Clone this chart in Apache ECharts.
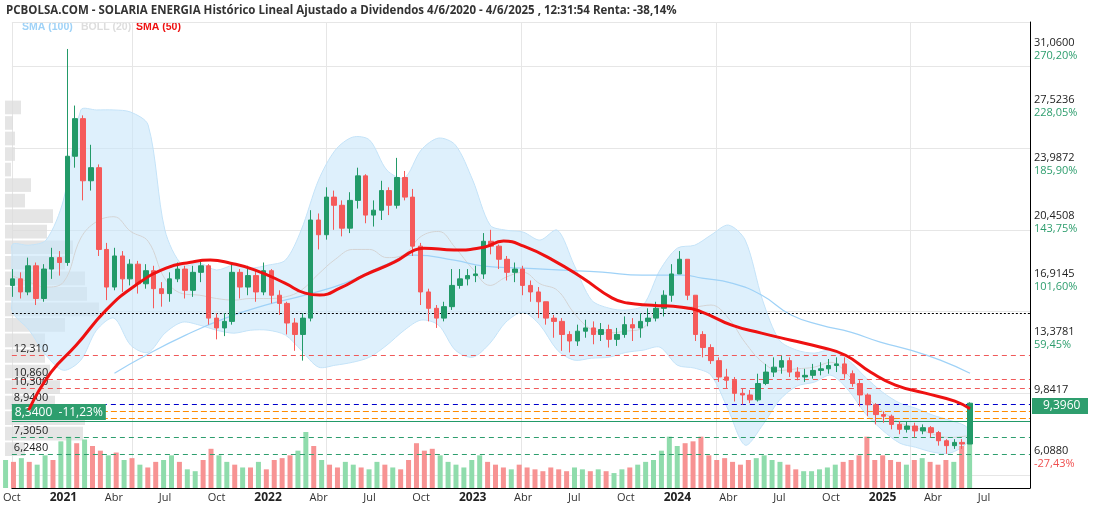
<!DOCTYPE html>
<html lang="es">
<head>
<meta charset="UTF-8">
<title>SOLARIA ENERGIA</title>
<script src="https://cdn.jsdelivr.net/npm/echarts@6/dist/echarts.min.js"></script>
<style>html,body{margin:0;padding:0;background:#fff}</style>
</head>
<body>
<div id="main" style="width:1096px;height:512px"></div>
<script>
// biweekly candles starting 2020-10-02
var startDate = Date.UTC(2020, 9, 2);
var closes = [17.0,16.2,17.8,15.8,17.6,18.3,18.0,24.5,26.8,23.0,23.8,18.8,16.5,18.4,17.0,17.9,16.7,17.5,16.4,16.1,
  17.0,17.6,16.3,17.4,17.8,14.6,14.0,14.4,17.4,16.5,17.2,16.2,17.5,16.0,15.5,14.3,13.6,14.6,20.6,19.7,
  22.0,21.5,20.1,21.8,23.3,20.9,21.2,22.4,21.5,23.2,22.0,19.0,16.2,15.2,14.6,15.3,16.6,17.0,17.2,17.3,
  19.3,19.0,18.2,17.4,17.6,16.6,16.2,15.6,14.6,14.4,13.6,13.2,13.8,14.0,13.6,13.9,13.3,13.6,14.2,14.0,
  14.4,14.6,15.2,16.0,17.3,18.2,16.0,13.6,12.8,12.0,11.0,10.8,10.0,9.9,9.6,10.6,11.3,11.6,12.0,11.3,
  11.0,11.1,11.4,11.5,11.7,11.8,11.2,10.6,9.9,9.3,8.7,8.6,8.1,7.8,8.0,7.7,7.9,7.6,7.1,6.8,
  7.0,6.9,9.396];
var highs = [17.6,17.4,18.3,18.0,17.9,18.9,18.7,31.06,27.6,27.0,25.2,24.0,19.2,18.9,18.7,18.2,18.1,17.9,17.8,16.8,
  17.4,18.0,17.8,17.8,18.2,17.9,14.9,14.9,17.9,17.6,17.8,17.5,18.0,17.6,16.3,15.6,14.6,14.9,21.2,21.0,
  22.6,22.4,21.8,22.3,23.8,23.4,21.8,23.0,22.6,24.4,23.6,22.5,19.2,16.4,15.4,15.6,17.6,17.6,17.6,17.8,
  19.8,20.0,19.1,18.4,18.0,17.8,16.9,16.5,15.6,14.8,14.6,13.8,14.2,14.5,14.4,14.3,14.2,14.0,14.7,14.6,
  14.9,15.2,15.6,16.3,17.9,18.7,18.2,16.0,13.8,13.0,12.2,11.5,11.0,10.3,10.2,11.2,11.8,12.2,12.3,12.2,
  11.6,11.5,11.8,11.9,12.1,12.2,12.2,11.4,10.8,10.0,9.4,8.9,8.7,8.3,8.3,8.2,8.1,8.0,7.7,7.2,
  7.2,7.2,9.45];
var lows = [15.9,15.8,16.0,15.4,15.6,17.0,17.2,17.8,23.8,21.8,22.4,18.4,15.7,16.3,16.2,16.6,16.1,16.4,15.2,15.3,
  15.6,16.8,15.8,15.9,16.8,14.2,13.3,13.5,14.2,15.8,16.0,15.6,16.0,15.5,14.8,13.6,12.6,12.0,14.4,18.8,
  19.4,20.0,19.6,19.8,21.3,20.4,20.2,20.6,20.9,21.3,21.8,18.4,15.4,14.4,14.0,14.4,15.1,16.4,16.6,16.8,
  17.0,18.5,17.6,16.9,16.8,16.0,15.6,14.6,14.2,13.4,12.6,12.5,12.9,13.4,13.0,13.2,12.8,12.9,13.4,13.2,
  13.4,14.1,14.4,14.7,15.6,17.4,15.7,13.2,12.2,11.8,10.7,10.3,9.5,9.3,9.4,9.5,10.5,11.0,11.2,11.0,
  10.8,10.7,10.9,11.1,11.2,11.3,10.9,10.4,9.2,8.6,8.1,8.2,7.8,7.5,7.6,7.3,7.5,7.3,6.8,6.3,
  6.6,6.6,6.9];
var firstOpen = 16.6;
var volumes = [30,28,32,28,25,35,30,50,55,48,52,45,40,35,38,30,32,25,22,28,
  30,35,28,20,18,30,42,35,28,25,22,22,28,20,30,32,35,40,60,45,
  30,25,22,28,25,22,20,28,25,22,20,30,48,40,42,35,28,25,22,30,
  35,28,25,22,20,25,22,20,18,22,20,18,22,20,18,20,18,16,20,22,
  25,28,30,40,55,45,48,50,55,35,30,32,28,25,30,32,35,30,28,25,
  20,18,18,20,22,25,28,30,35,55,30,35,30,28,25,30,32,28,25,30,
  28,45,65];

// moving averages
var sma50 = [['2020-10-31',8.97],['2020-12-10',11.29],['2021-01-24',12.95],['2021-03-18',15.09],['2021-05-10',16.62],
  ['2021-07-03',17.66],['2021-08-16',18.02],['2021-09-20',18.15],['2021-10-26',17.96],['2021-12-09',17.54],
  ['2022-01-31',16.74],['2022-03-08',16.13],['2022-04-03',16.01],['2022-05-09',16.43],['2022-06-22',17.23],
  ['2022-08-14',18.02],['2022-09-19',18.76],['2022-10-06',18.88],['2022-11-29',18.76],['2023-01-21',18.94],
  ['2023-02-25',19.31],['2023-04-02',19.0],['2023-05-24',18.15],['2023-07-16',17.05],['2023-09-07',15.82],
  ['2023-10-04',15.52],['2023-11-17',15.39],['2024-01-09',15.27],['2024-02-14',14.97],['2024-04-07',14.17],
  ['2024-05-30',13.68],['2024-07-22',13.25],['2024-09-13',12.82],['2024-10-27',12.33],['2024-12-11',11.29],
  ['2025-01-24',10.50],['2025-03-18',10.01],['2025-05-10',9.52],['2025-06-06',9.05]];
var sma100 = [['2021-04-02',11.23],['2021-05-28',12.33],['2021-08-07',13.56],['2021-10-17',14.60],['2021-12-27',15.39],
  ['2022-03-08',16.01],['2022-05-18',16.74],['2022-07-28',17.84],['2022-09-19',18.45],['2022-11-29',18.15],
  ['2023-01-21',17.78],['2023-04-02',17.66],['2023-06-10',17.54],['2023-08-20',17.41],['2023-10-30',17.23],
  ['2024-01-09',17.23],['2024-02-14',17.05],['2024-04-07',16.74],['2024-05-30',16.01],['2024-07-22',14.79],
  ['2024-09-13',14.17],['2024-11-05',13.74],['2024-12-28',13.13],['2025-02-20',12.64],['2025-04-14',12.03],
  ['2025-06-06',11.23]];
// Bollinger (20), monthly from Oct 2020
var bollUpper = [19.06,19.06,19.37,21.82,27.33,27.33,27.33,27.2,26.41,19.98,17.84,17.96,17.54,17.84,17.66,17.84,18.15,19.98,23.04,24.88,
  25.67,25.49,23.65,23.17,24.88,25.61,25.19,23.04,20.29,19.98,19.86,19.37,19.98,17.84,15.7,15.21,15.09,15.39,17.54,18.88,
  19.06,19.68,20.29,19.37,15.7,13.25,12.64,12.46,12.64,12.03,11.0,10.07,9.4,9.09,8.66,8.35,7.9];
var bollLower = [15.09,13.86,12.33,11.41,12.03,13.86,14.6,12.94,12.5,13.68,14.35,14.17,13.86,13.68,13.86,13.86,13.56,12.64,11.6,11.72,
  11.9,12.21,12.95,13.86,14.48,14.17,12.64,12.21,13.07,14.35,14.96,14.17,12.64,12.03,12.15,12.21,12.5,12.64,12.82,11.72,
  11.54,11.11,8.97,6.83,8.05,9.58,10.44,10.68,11.11,10.19,8.78,7.74,6.95,6.7,6.4,6.34,7.0];
var bollMid = [17.2,16.8,16.5,16.8,19.5,20.5,20.8,19.9,19.3,17.0,16.1,16.0,15.8,15.7,15.8,15.8,15.9,16.3,17.3,18.2,
  18.8,18.8,18.3,18.5,19.6,19.9,18.9,17.6,16.6,17.1,17.4,16.7,16.3,14.9,13.9,13.7,13.8,14.0,15.2,15.3,
  15.3,15.4,14.6,13.1,11.9,11.4,11.5,11.6,11.9,11.1,9.9,8.9,8.2,7.9,7.5,7.3,7.4];

var yTicks = [6.088, 9.8417, 13.3781, 16.9145, 20.4508, 23.9872, 27.5236, 31.06];
var yTickText = ['6,0880','9,8417','13,3781','16,9145','20,4508','23,9872','27,5236','31,0600'];
var yTickPct = ['-27,43%','17,30%','59,45%','101,60%','143,75%','185,90%','228,05%','270,20%'];
var xTickDates = ['2020-10-01','2021-01-01','2021-04-01','2021-07-01','2021-10-01','2022-01-01','2022-04-01','2022-07-01',
  '2022-10-01','2023-01-01','2023-04-01','2023-07-01','2023-10-01','2024-01-01','2024-04-01','2024-07-01',
  '2024-10-01','2025-01-01','2025-04-01','2025-07-01'];
var monthNames = {0:'', 3:'Abr', 6:'Jul', 9:'Oct'};
// volume profile, 30 price bins between axis min and max
var profile = [0,0,20,78,80,50,55,45,40,40,60,94,82,80,60,68,42,48,20,26,6,10,10,8,16,0,0,0,0,0];

var yMin = 4.21, yMax = 32.71;
var DAY = 86400000;
function ts(d) { return new Date(d + 'T00:00:00Z').getTime(); }

var candleData = [], volData = [];
for (var i = 0; i < closes.length; i++) {
    var t = startDate + i * 14 * DAY;
    var open = i === 0 ? firstOpen : closes[i - 1];
    candleData.push([t, open, closes[i], lows[i], highs[i]]);
    var up = closes[i] >= open;
    volData.push({value: [t, volumes[i]], itemStyle: {color: up ? '#8fdcac' : '#f79393'}});
}
var bollTimes = [], bollM = [];
for (var m = 0; m < bollUpper.length; m++) {
    var bt = Date.UTC(2020, 9 + m, 1);
    bollTimes.push(bt);
    bollM.push([bt, bollMid[m]]);
}
var sma50Data = sma50.map(function (p) { return [ts(p[0]), p[1]]; });
var sma100Data = sma100.map(function (p) { return [ts(p[0]), p[1]]; });
var profCats = [];
for (var k = 0; k < profile.length; k++) profCats.push(String(k));
var xTickVals = xTickDates.map(ts);

function hline(v, text, color, type, width) {
    return {
        yAxis: v,
        lineStyle: {color: color, type: type, width: width || 1},
        label: {show: !!text, formatter: text || '', position: 'insideStartTop', color: '#222', fontSize: 11, distance: [2, 1]}
    };
}

// band polygon between upper and lower Bollinger lines
function renderBand(params, api) {
    var pts = [];
    for (var j = 0; j < bollTimes.length; j++) pts.push(api.coord([bollTimes[j], bollUpper[j]]));
    for (var j2 = bollTimes.length - 1; j2 >= 0; j2--) pts.push(api.coord([bollTimes[j2], bollLower[j2]]));
    return {
        type: 'polygon',
        shape: {points: pts, smooth: 0.3},
        style: {fill: 'rgba(200,230,250,0.6)', stroke: '#c4e3f8', lineWidth: 1}
    };
}

var myChart = echarts.init(document.getElementById('main'));
var xMin = Date.UTC(2020, 9, 1), xMax = Date.UTC(2025, 8, 21);
var option = {
    animation: false,
    textStyle: {fontFamily: 'Open Sans, Noto Sans, sans-serif'},
    graphic: [
        {type: 'text', left: 6, top: 5, style: {text: 'PCBOLSA.COM - SOLARIA ENERGIA Histórico Lineal Ajustado a Dividendos 4/6/2020 - 4/6/2025 , 12:31:54 Renta: -38,14%', font: 'bold 11.5px "Open Sans"', fill: '#333'}},
        {type: 'text', left: 22, top: 22, style: {text: 'SMA (100)', font: 'bold 10.5px Arial, sans-serif', fill: '#9fd2f7'}},
        {type: 'text', left: 81, top: 22, style: {text: 'BOLL (20)', font: 'bold 10.5px Arial, sans-serif', fill: '#dddddd'}},
        {type: 'text', left: 136, top: 22, style: {text: 'SMA (50)', font: 'bold 10.5px Arial, sans-serif', fill: '#ee1111'}},
        {type: 'rect', left: 1032, top: 398, shape: {width: 56, height: 16}, style: {fill: '#2e9e6e'}, z: 100},
        {type: 'text', left: 1043, top: 400, style: {text: '9,3960', font: '12px "Open Sans"', fill: '#fff'}, z: 101}
    ],
    grid: [
        {left: 5, right: 66, top: 22, bottom: 24, show: false},
        {left: 5, right: 66, top: 418, bottom: 24},
        {left: 5, width: 100, top: 22, bottom: 24}
    ],
    xAxis: [
        {
            type: 'value', gridIndex: 0, min: xMin, max: xMax,
            axisLine: {show: true, lineStyle: {color: '#000'}},
            axisTick: {show: false},
            splitLine: {show: true, lineStyle: {color: '#e6e6e6'}},
            axisLabel: {
                customValues: xTickVals,
                color: '#333', fontSize: 11, margin: 4,
                formatter: function (v) {
                    var d = new Date(v);
                    var mo = d.getUTCMonth();
                    return mo === 0 ? '{y|' + d.getUTCFullYear() + '}' : monthNames[mo];
                },
                rich: {y: {fontWeight: 'bold', fontSize: 12, color: '#222'}}
            }
        },
        {type: 'value', gridIndex: 1, min: xMin, max: xMax, show: false},
        {type: 'value', gridIndex: 2, min: 0, max: 100, show: false}
    ],
    yAxis: [
        {
            type: 'value', gridIndex: 0, position: 'right', min: yMin, max: yMax,
            axisLine: {show: true, lineStyle: {color: '#000'}},
            axisTick: {show: false},
            splitLine: {show: true, lineStyle: {color: '#e6e6e6'}},
            axisLabel: {
                customValues: yTicks,
                margin: 4,
                formatter: function (v) {
                    var idx = 0, best = 1e9;
                    for (var j = 0; j < yTicks.length; j++) {
                        if (Math.abs(yTicks[j] - v) < best) { best = Math.abs(yTicks[j] - v); idx = j; }
                    }
                    return '{v|' + yTickText[idx] + '}\n{' + (idx === 0 ? 'n' : 'p') + '|' + yTickPct[idx] + '}';
                },
                rich: {
                    v: {color: '#222', fontSize: 11, lineHeight: 13},
                    p: {color: '#2e9e6e', fontSize: 11, lineHeight: 13},
                    n: {color: '#f05050', fontSize: 11, lineHeight: 13}
                }
            }
        },
        {type: 'value', gridIndex: 1, min: 0, max: 75, show: false},
        {type: 'category', gridIndex: 2, data: profCats, show: false}
    ],
    series: [
        {
            type: 'bar', xAxisIndex: 2, yAxisIndex: 2, data: profile, barCategoryGap: '12%',
            itemStyle: {color: '#dcdcdc', opacity: 0.75}, silent: true, z: 1
        },
        {
            type: 'custom', data: [[0]], renderItem: renderBand, silent: true, z: 2, clip: true
        },
        {
            type: 'line', data: bollM, symbol: 'none', smooth: 0.4,
            lineStyle: {width: 1, color: '#d4d4d4'}, silent: true, z: 3
        },
        {
            type: 'line', data: sma100Data, symbol: 'none', smooth: true,
            lineStyle: {width: 1.2, color: '#9fd2f7'}, silent: true, z: 4
        },
        {
            type: 'bar', xAxisIndex: 1, yAxisIndex: 1, data: volData, barWidth: 5, silent: true, z: 2
        },
        {
            type: 'candlestick', data: candleData, barWidth: 5, z: 5,
            itemStyle: {color: '#229a68', color0: '#f55a5a', borderColor: '#229a68', borderColor0: '#f55a5a'},
            markLine: {
                symbol: 'none', silent: true, animation: false,
                data: [
                    hline(14.9, '', '#000', [2, 2]),
                    hline(12.31, '12,310', '#f05a5a', [5, 4]),
                    hline(10.86, '10,860', '#f05a5a', [5, 4]),
                    hline(10.30, '10,300', '#f05a5a', [5, 4]),
                    hline(9.33, '8,9400', '#0000cc', [5, 4]),
                    hline(8.9, '', '#ff8c00', [6, 3]),
                    hline(8.48, '', '#ff8c00', [6, 3]),
                    {
                        yAxis: 8.3, lineStyle: {color: '#229a68', type: 'solid', width: 1.2},
                        label: {formatter: '8,3400  -11,23%', position: 'insideStartTop', color: '#fff', fontSize: 12,
                            backgroundColor: '#2e9e6e', padding: [2, 3], distance: [0, 1]}
                    },
                    hline(7.3, '7,3050', '#2e9e6e', [5, 4]),
                    hline(6.25, '6,2480', '#2e9e6e', [5, 4])
                ]
            }
        },
        {
            type: 'line', data: sma50Data, symbol: 'none', smooth: true,
            lineStyle: {width: 3, color: '#ee1111'}, silent: true, z: 6
        }
    ]
};
myChart.setOption(option);
</script>
</body>
</html>
